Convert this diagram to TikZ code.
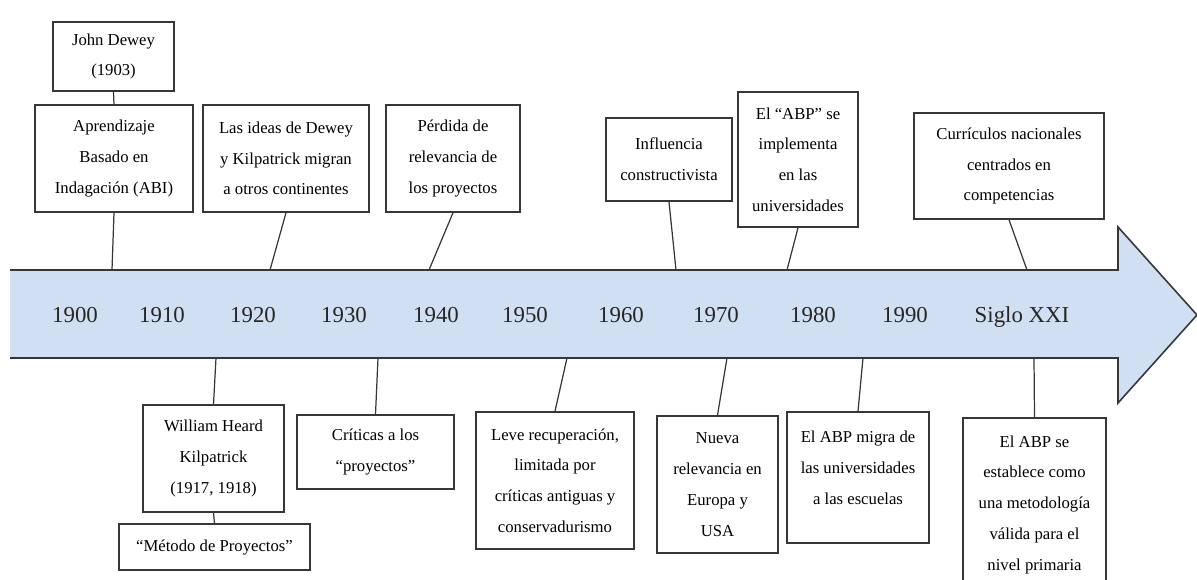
\documentclass[tikz,border=0pt]{standalone}
\usepackage{fontspec}
\setmainfont{Liberation Serif}
\usetikzlibrary{positioning}

\definecolor{arrowblue}{RGB}{208,224,242}
\definecolor{edgegray}{RGB}{55,55,55}

\begin{document}
\begin{tikzpicture}[x=0.02cm, y=-0.02cm,
		box/.style={draw=edgegray, line width=0.9pt, fill=white, align=center, inner sep=0pt,
			font=\fontsize{9.5}{17.5}\selectfont},
		year/.style={anchor=base, font=\fontsize{13}{15}\selectfont, text=black!85},
		link/.style={draw=edgegray, line width=0.7pt}]
					\clip (0,0) rectangle (1197,580);

					% flecha del tiempo
					\fill[arrowblue] (10,270) -- (1118,270) -- (1118,227) -- (1197,315)
						-- (1118,403) -- (1118,358) -- (10,358) -- cycle;
					\draw[edgegray, line width=0.9pt] (10,270) -- (1118,270) -- (1118,227) -- (1197,315)
						-- (1118,403) -- (1118,358) -- (10,358);

					\foreach \x/\t [count=\i] in {75/1900, 162/1910, 253/1920, 344/1930, 436/1940,
						525/1950, 621/1960, 716/1970, 813/1980, 905/1990, 1022/Siglo XXI}
						\node[year] (year\i) at (\x,323) {\t};

					% puntos sobre la flecha
					\coordinate (t1) at (112,270);
					\coordinate (t2) at (270,270);
					\coordinate (t3) at (429,270);
					\coordinate (t4) at (676,270);
					\coordinate (t5) at (787,270);
					\coordinate (t6) at (1027,270);

					\coordinate (b1) at (216,358);
					\coordinate (b2) at (378,358);
					\coordinate (b3) at (567,358);
					\coordinate (b4) at (727,358);
					\coordinate (b5) at (863,358);
					\coordinate (b6) at (1034,358);

					% arriba
					\node[box, minimum width=2.42cm, minimum height=1.38cm] (dewey) at (113.5,56.5)
						{John Dewey\\(1903)};
					\node[box, minimum width=3.16cm, minimum height=2.14cm] (abi) at (114,158.5)
						{Aprendizaje\\Basado en\\Indagación (ABI)};
					\node[box, minimum width=3.32cm, minimum height=2.14cm] (ideas) at (286,158.5)
						{Las ideas de Dewey\\y Kilpatrick migran\\a otros continentes};
					\node[box, minimum width=2.68cm, minimum height=2.14cm] (perdida) at (453,158.5)
						{Pérdida de\\relevancia de\\los proyectos};
					\node[box, minimum width=2.52cm, minimum height=1.66cm] (influencia) at (669,159.5)
						{Influencia\\constructivista};
					\node[box, minimum width=2.40cm, minimum height=2.70cm] (implementa) at (798,159.5)
						{El “ABP” se\\implementa\\en las\\universidades};
					\node[box, minimum width=3.80cm, minimum height=2.12cm] (curriculos) at (1009,166)
						{Currículos nacionales\\centrados en\\competencias};

					% abajo
					\node[box, minimum width=2.82cm, minimum height=2.14cm] (kilpatrick) at (213.5,458.5)
						{William Heard\\Kilpatrick\\(1917, 1918)};
					\node[box, minimum width=3.82cm, minimum height=0.92cm] (metodo) at (214.5,547)
						{“Método de Proyectos”};
					\node[box, minimum width=3.14cm, minimum height=1.48cm] (criticas) at (375.5,452)
						{Críticas a los\\“proyectos”};
					\node[box, minimum width=3.16cm, minimum height=2.74cm] (leve) at (555,480.5)
						{Leve recuperación,\\limitada por\\críticas antiguas y\\conservadurismo};
					\node[box, minimum width=2.42cm, minimum height=2.74cm] (nueva) at (717.5,484.5)
						{Nueva\\relevancia en\\Europa y\\USA};
					\node[box, minimum width=2.84cm, minimum height=2.62cm, text depth=0.4cm] (migra) at (858,477.5)
						{El ABP migra de\\las universidades\\a las escuelas};
					\node[box, minimum width=2.86cm, minimum height=3.46cm] (establece) at (1034.5,504.5)
						{El ABP se\\establece como\\una metodología\\válida para el\\nivel primaria};

					\draw[link] (dewey.south) -- (abi.north);
					\draw[link] (kilpatrick.south) -- (metodo.north);

					\draw[link] (abi.south) -- (t1);
					\draw[link] (ideas.south) -- (t2);
					\draw[link] (perdida.south) -- (t3);
					\draw[link] (influencia.south) -- (t4);
					\draw[link] (implementa.south) -- (t5);
					\draw[link] (curriculos.south) -- (t6);

					\draw[link] (kilpatrick.north) -- (b1);
					\draw[link] (criticas.north) -- (b2);
					\draw[link] (leve.north) -- (b3);
					\draw[link] (nueva.north) -- (b4);
					\draw[link] (migra.north) -- (b5);
					\draw[link] (establece.north) -- (b6);
				\end{tikzpicture}
\end{document}
